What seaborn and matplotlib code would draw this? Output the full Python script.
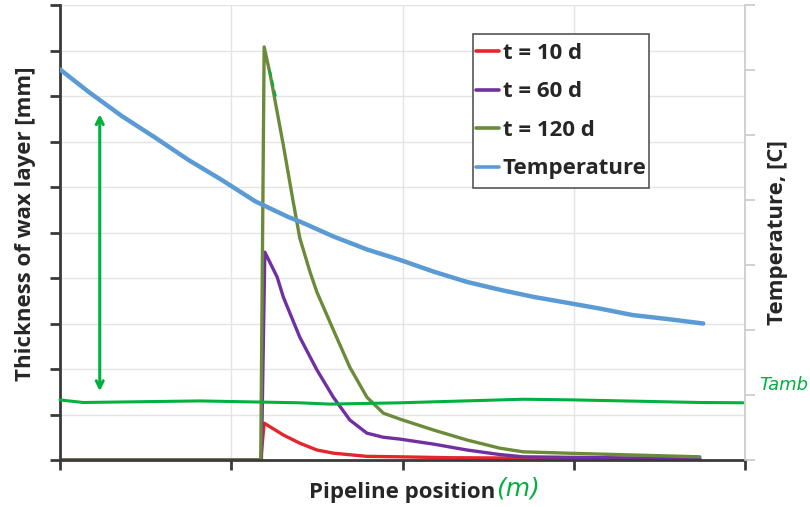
import matplotlib
matplotlib.use("Agg")
import pandas as pd
import matplotlib.pyplot as plt
from matplotlib.patches import Rectangle
import seaborn as sns

# 読み取った値（位置は 0〜100、厚さ 0〜10、温度 0〜70）
x_10d = [0, 29.3, 29.8, 32.6, 35.0, 37.5, 39.9, 44.8, 49.6, 56.9, 70.0, 93.4]
y_10d = [0, 0, 0.81, 0.55, 0.37, 0.22, 0.15, 0.08, 0.07, 0.05, 0.04, 0.03]

x_60d = [0, 29.4, 29.9, 31.7, 32.6, 35.0, 37.5, 39.9, 42.3, 44.8, 47.2,
         49.6, 54.5, 59.4, 64.2, 67.6, 80.0, 93.4]
y_60d = [0, 0, 4.57, 4.02, 3.58, 2.70, 1.98, 1.38, 0.88, 0.59, 0.50,
         0.46, 0.35, 0.22, 0.12, 0.07, 0.05, 0.03]

x_120d = [0, 29.3, 29.8, 30.7, 32.6, 34.0, 35.0, 36.5, 37.5, 39.9, 42.3,
          44.8, 47.2, 49.6, 54.5, 59.4, 64.2, 67.6, 74.0, 83.6, 93.4]
y_120d = [0, 0, 9.08, 8.46, 6.92, 5.71, 4.88, 4.13, 3.69, 2.86, 2.04,
          1.38, 1.03, 0.90, 0.66, 0.44, 0.26, 0.18, 0.15, 0.11, 0.07]

x_temp = [0, 4.1, 9.05, 13.9, 18.7, 23.6, 28.5, 33.3, 35.0, 39.9, 44.8,
          49.6, 54.5, 59.4, 64.2, 69.1, 74.0, 78.8, 83.6, 88.6, 93.9]
y_temp = [60.1, 56.7, 52.9, 49.6, 46.2, 43.1, 39.8, 37.4, 36.7, 34.4, 32.4,
          30.8, 29.0, 27.4, 26.2, 25.1, 24.2, 23.3, 22.3, 21.7, 21.0]

series_labels = ["t = 10 d", "t = 60 d", "t = 120 d"]
series_colors = ["#E3262B", "#7030A0", "#6B8A3A"]
temp_label = "Temperature"
temp_color = "#5B9BD5"

# 手書きの Tamb 線
x_tamb = [0, 3.4, 20.4, 35.0, 39.4, 49.6, 67.6, 74.9, 93.4, 99.7]
y_tamb = [9.24, 8.85, 9.09, 8.8, 8.6, 8.8, 9.35, 9.25, 8.85, 8.8]

wax = pd.concat([
    pd.DataFrame({"x": x_10d, "y": y_10d, "t": series_labels[0]}),
    pd.DataFrame({"x": x_60d, "y": y_60d, "t": series_labels[1]}),
    pd.DataFrame({"x": x_120d, "y": y_120d, "t": series_labels[2]}),
])
temp = pd.DataFrame({"x": x_temp, "T": y_temp})

sns.set_style("white")
plt.rcParams["font.family"] = ["Open Sans", "DejaVu Sans"]

fig = plt.figure(figsize=(8.1, 5.07), dpi=100)
ax = fig.add_axes([0.0741, 0.0927, 0.8457, 0.8973])

sns.lineplot(data=wax, x="x", y="y", hue="t", palette=series_colors,
             estimator=None, sort=False, linewidth=2.4, ax=ax, legend=False)

ax.set_xlim(0, 100)
ax.set_ylim(0, 10)
ax.set_xticks([0, 25, 50, 75, 100])
ax.set_yticks(range(0, 11))
ax.set_xticklabels([])
ax.set_yticklabels([])
ax.grid(True, color="#e4e4e4", linewidth=1.0)
ax.set_axisbelow(True)
for s in ["top", "right"]:
    ax.spines[s].set_visible(False)
for s in ["left", "bottom"]:
    ax.spines[s].set_color("#3a3a3a")
    ax.spines[s].set_linewidth(2.0)
ax.tick_params(axis="both", direction="out", length=7, width=2.0,
               color="#3a3a3a", left=True, bottom=True)
ax.set_xlabel("Pipeline position", fontsize=16, fontweight="bold",
              color="#262626", labelpad=5)
ax.set_ylabel("Thickness of wax layer [mm]", fontsize=16, fontweight="bold",
              color="#262626", labelpad=7)
ax.yaxis.label.set_y(0.52)

ax2 = ax.twinx()
sns.lineplot(data=temp, x="x", y="T", color=temp_color, linewidth=3.2,
             ax=ax2, legend=False)
ax2.set_ylim(0, 70)
ax2.set_yticks(range(0, 71, 10))
ax2.set_yticklabels([])
for s in ["top", "left", "bottom"]:
    ax2.spines[s].set_visible(False)
ax2.spines["right"].set_color("#c8c8c8")
ax2.spines["right"].set_linewidth(1.2)
ax2.tick_params(axis="y", direction="out", length=7, width=1.2,
                color="#c8c8c8", right=True)
ax2.set_ylabel("Temperature, [C]", fontsize=16, fontweight="bold",
               color="#262626", labelpad=5)

# 手書きの注記（緑）
hand = "#00B140"
ax2.plot(x_tamb, y_tamb, color=hand, linewidth=2.2, clip_on=False)
ax2.annotate("", xy=(5.8, 53.2), xytext=(5.8, 10.6),
             arrowprops=dict(arrowstyle="<->,head_width=0.25,head_length=0.5",
                             color=hand, lw=2.2, shrinkA=0, shrinkB=0))
ax2.plot([30.6, 31.6], [60.0, 55.5], color=hand, linewidth=1.5,
         linestyle=(0, (3, 2)))
ax2.text(102.0, 11.6, "Tamb", color=hand, fontsize=13, family="DejaVu Sans",
         style="italic", va="center", ha="left", clip_on=False)
ax.text(63.6, -0.62, "(m)", color=hand, fontsize=18, family="DejaVu Sans",
        style="italic", va="center", ha="left", clip_on=False)

# 凡例（枠は別に描く）
box_x, box_y, box_w, box_h = 0.603, 0.598, 0.257, 0.338
ax2.add_patch(Rectangle((box_x, box_y), box_w, box_h, transform=ax2.transAxes,
                        facecolor="white", edgecolor="#555555", linewidth=1.2,
                        zorder=4))
handles = [plt.Line2D([], [], color=c, linewidth=2.6) for c in series_colors]
handles.append(plt.Line2D([], [], color=temp_color, linewidth=2.6))
leg = ax2.legend(handles, series_labels + [temp_label], loc="center",
                 bbox_to_anchor=(box_x + box_w / 2, box_y + box_h / 2),
                 borderaxespad=0, frameon=False,
                 handlelength=1.05, handletextpad=0.15, labelspacing=0.79,
                 borderpad=0.0, prop={"size": 16, "weight": "bold"})
leg.set_zorder(5)
for t in leg.get_texts():
    t.set_color("#262626")

fig.savefig("out.png", dpi=100)
plt.close(fig)
